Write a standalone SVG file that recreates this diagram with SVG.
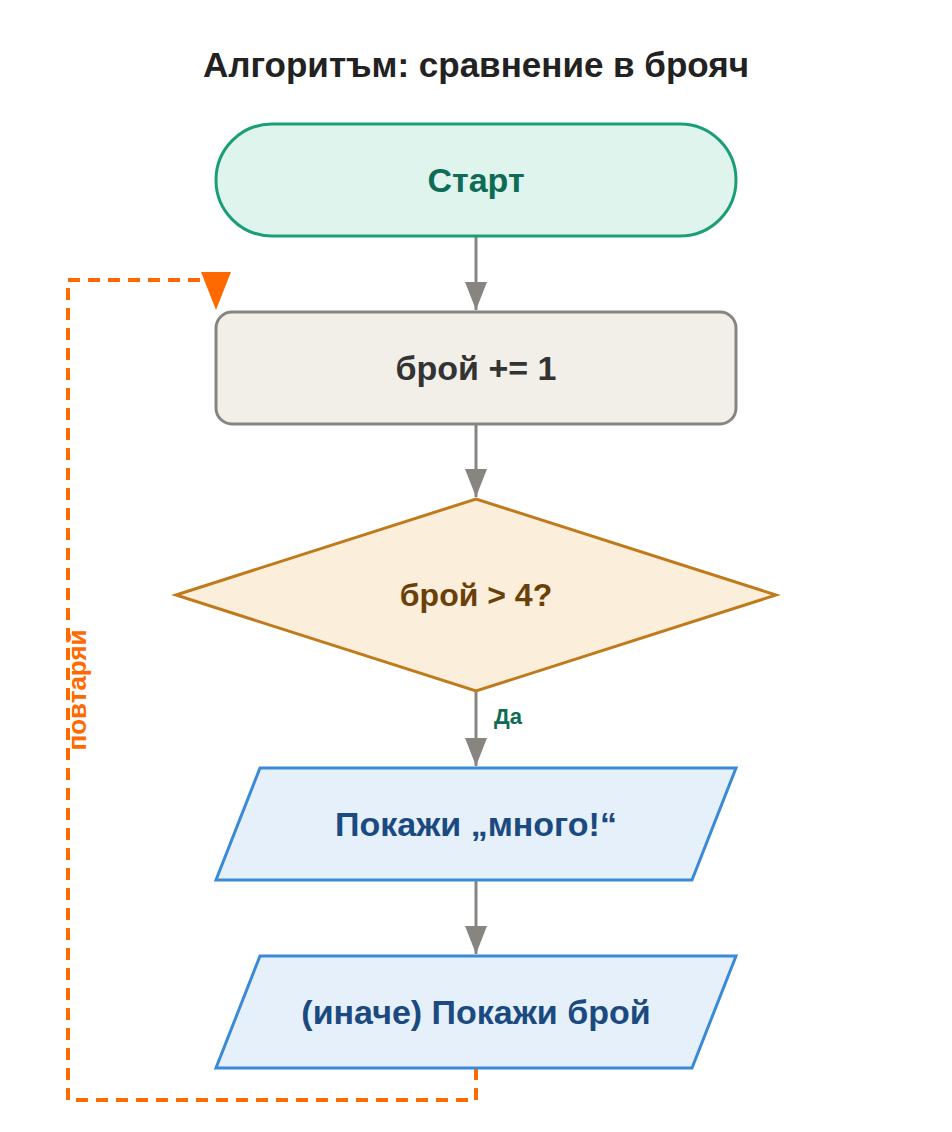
<svg xmlns="http://www.w3.org/2000/svg" width="952" height="1132" viewBox="0 0 952 1132">
<style>
text{font-family:"Liberation Sans",Arial,sans-serif;font-weight:bold;text-anchor:middle;dominant-baseline:central}
.c{stroke:#888580;stroke-width:3;fill:none}
.lbl{font-size:34px}
</style>
<rect width="952" height="1132" fill="#fff"/>
<text x="476" y="64" font-size="35" fill="#222">Алгоритъм: сравнение в брояч</text>
<g id="connectors">
<line class="c" x1="476" y1="236" x2="476" y2="310"/>
<polygon points="465,282 487,282 476,310" fill="#888580"/>
<line class="c" x1="476" y1="424" x2="476" y2="497"/>
<polygon points="465,469 487,469 476,497" fill="#888580"/>
<line class="c" x1="476" y1="691" x2="476" y2="766"/>
<polygon points="465,738 487,738 476,766" fill="#888580"/>
<text x="508" y="716" font-size="22" fill="#0e6b55">Да</text>
<line class="c" x1="476" y1="880" x2="476" y2="954"/>
<polygon points="465,926 487,926 476,954" fill="#888580"/>
<polyline points="476,1068 476,1100 68,1100 68,280 202,280" fill="none" stroke="#ff6a00" stroke-width="4" stroke-dasharray="12,8"/>
<polygon points="201,272 231,272 216,310" fill="#ff6a00"/>
<text x="0" y="0" font-size="26" fill="#ff6a00" transform="translate(77,690) rotate(-90)">повтаряй</text>
</g>
<g id="start">
<rect x="216" y="124" width="520" height="112" rx="56" fill="#e0f4ee" stroke="#1a9e77" stroke-width="3"/>
<text x="476" y="180" class="lbl" fill="#0e6b55">Старт</text>
</g>
<g id="inc">
<rect x="216" y="312" width="520" height="112" rx="16" fill="#f2efe8" stroke="#888580" stroke-width="3"/>
<text x="476" y="368" class="lbl" fill="#333">брой += 1</text>
</g>
<g id="cond">
<polygon points="176,595 476,499 776,595 476,691" fill="#fbeedb" stroke="#c07a1c" stroke-width="3"/>
<text x="476" y="595" font-size="32" fill="#6b4008">брой &gt; 4?</text>
</g>
<g id="out1">
<polygon points="260,768 736,768 692,880 216,880" fill="#e6f0fb" stroke="#3a8ad8" stroke-width="3"/>
<text x="476" y="824" class="lbl" fill="#1a4a80">Покажи „много!“</text>
</g>
<g id="out2">
<polygon points="260,956 736,956 692,1068 216,1068" fill="#e6f0fb" stroke="#3a8ad8" stroke-width="3"/>
<text x="476" y="1012" class="lbl" fill="#1a4a80">(иначе) Покажи брой</text>
</g>
</svg>
